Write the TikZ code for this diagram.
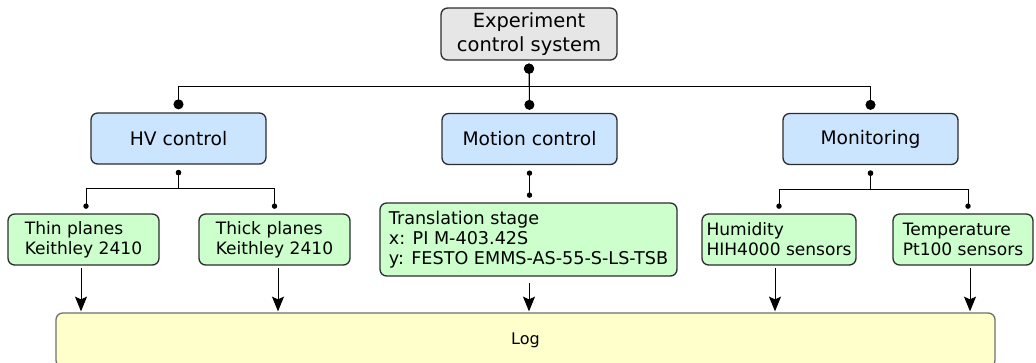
\documentclass[tikz,border=0pt]{standalone}
\usepackage{fontspec}
\setmainfont{DejaVu Sans}
\usetikzlibrary{arrows.meta,calc}

\definecolor{topfill}{HTML}{E6E6E6}
\definecolor{bluefill}{HTML}{CCE5FF}
\definecolor{greenfill}{HTML}{CCFFCC}
\definecolor{logfill}{HTML}{FFFFCC}
\definecolor{boxline}{HTML}{2B2D30}
\definecolor{logline}{HTML}{707070}

\tikzset{
  box/.style={draw=boxline, line width=1pt, rounded corners=5pt, inner sep=0pt, align=center},
  rootbox/.style={box, fill=topfill, minimum width=132pt, minimum height=39pt,
    font=\fontsize{14.6}{18}\selectfont},
  groupbox/.style={box, fill=bluefill, minimum width=131.25pt, minimum height=38.25pt,
    font=\fontsize{14}{17}\selectfont},
  devbox/.style={box, fill=greenfill, minimum height=38.25pt, align=left,
    font=\fontsize{12.8}{15}\selectfont},
  logbox/.style={draw=logline, line width=1pt, fill=logfill, rounded corners=5pt,
    minimum width=704.25pt, minimum height=40.5pt, inner sep=0pt,
    font=\fontsize{12}{14}\selectfont},
  bigconn/.style={line width=0.75pt, {Circle[length=7.5pt]}-{Circle[length=7.5pt]},
    shorten <=2.25pt, shorten >=2.25pt},
  smallconn/.style={line width=0.75pt, {Circle[length=4pt]}-{Circle[length=4pt]},
    shorten <=4pt, shorten >=3.4pt},
  flow/.style={line width=0.75pt, -{Stealth[length=11pt, width=9pt, inset=2pt]},
    shorten >=0.75pt},
}

\begin{document}
\begin{tikzpicture}[x=0.75pt, y=-0.75pt]
  \useasboundingbox (0,0) rectangle (1036,362);

  % top level
  \node[rootbox] (root) at (529,34) {Experiment\\control system};

  % subsystem groups
  \node[groupbox] (hv)  at (178.5,138.5) {HV control};
  \node[groupbox] (mot) at (529.5,139)   {Motion control};
  \node[groupbox] (mon) at (870.5,139)   {Monitoring};

  % devices
  \node[devbox, minimum width=113.25pt] (thin)  at (83.5,239.5)  {Thin planes\\Keithley 2410};
  \node[devbox, minimum width=113.25pt] (thick) at (274.5,239.5) {Thick planes\\Keithley 2410};
  \node[devbox, minimum width=222.75pt, minimum height=54.75pt, font=\fontsize{13.2}{15.2}\selectfont]
    (stage) at (528.5,239.5) {Translation stage\\x: PI M-403.42S\\y: FESTO EMMS-AS-55-S-LS-TSB};
  \node[devbox, minimum width=115.5pt] (hum)  at (779,239.5) {Humidity\\HIH4000 sensors};
  \node[devbox, minimum width=105pt]   (temp) at (963,239.5) {Temperature\\Pt100 sensors};

  % log sink
  \node[logbox] (log) at (525.5,340) {Log};

  % control tree
  \draw[bigconn] (root.south) -- ++(0,26) -| (hv.north);
  \draw[bigconn] (root.south) -- (mot.north);
  \draw[bigconn] (root.south) -- ++(0,26) -| (mon.north);

  \draw[smallconn] (hv.south) -- ++(0,24) -| ($(thin.north)+(2.5,0)$);
  \draw[smallconn] (hv.south) -- ++(0,24) -| (thick.north);
  \draw[smallconn] (mot.south) -- (mot.south |- stage.north);
  \draw[smallconn] (mon.south) -- ++(0,24) -| (hum.north);
  \draw[smallconn] (mon.south) -- ++(0,24) -| ($(temp.north)+(5,0)$);

  % data flow to the log
  \draw[flow, shorten <=1.5pt] ($(thin.south)+(-2.5,0)$)  -- ($(thin.south |- log.north)+(-2.5,0)$);
  \draw[flow, shorten <=1.5pt] ($(thick.south)+(3.5,0)$)  -- ($(thick.south |- log.north)+(3.5,0)$);
  \draw[flow, shorten <=4.5pt] ($(stage.south)+(0.5,0)$)  -- ($(stage.south |- log.north)+(0.5,0)$);
  \draw[flow, shorten <=1.5pt] ($(hum.south)+(-4,0)$)     -- ($(hum.south |- log.north)+(-4,0)$);
  \draw[flow, shorten <=1.5pt] ($(temp.south)+(7,0)$)     -- ($(temp.south |- log.north)+(7,0)$);
\end{tikzpicture}
\end{document}
